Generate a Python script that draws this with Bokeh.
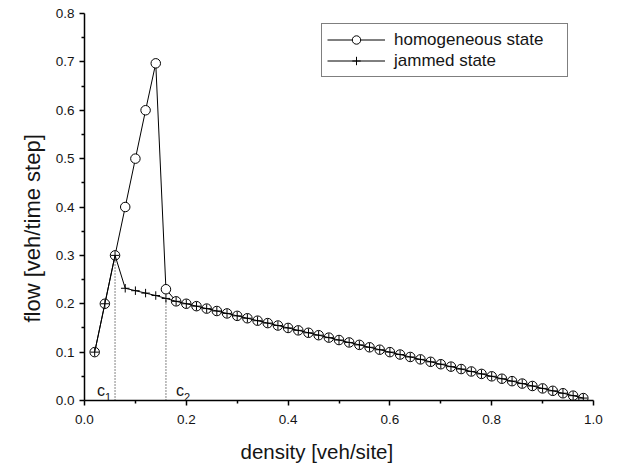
from bokeh.plotting import figure
from bokeh.models import Legend, LegendItem, Range1d, FixedTicker, Title
from bokeh.core.properties import value
from bokeh.embed import file_html
from bokeh.resources import INLINE

density = [0.02, 0.04, 0.06, 0.08, 0.10, 0.12, 0.14, 0.16, 0.18, 0.20,
           0.22, 0.24, 0.26, 0.28, 0.30, 0.32, 0.34, 0.36, 0.38, 0.40,
           0.42, 0.44, 0.46, 0.48, 0.50, 0.52, 0.54, 0.56, 0.58, 0.60,
           0.62, 0.64, 0.66, 0.68, 0.70, 0.72, 0.74, 0.76, 0.78, 0.80,
           0.82, 0.84, 0.86, 0.88, 0.90, 0.92, 0.94, 0.96, 0.98]

homogeneous = [0.100, 0.200, 0.300, 0.400, 0.500, 0.600, 0.697, 0.230, 0.205, 0.200,
               0.195, 0.190, 0.185, 0.180, 0.175, 0.170, 0.165, 0.160, 0.155, 0.150,
               0.145, 0.140, 0.135, 0.130, 0.125, 0.120, 0.115, 0.110, 0.105, 0.100,
               0.095, 0.090, 0.085, 0.080, 0.075, 0.070, 0.065, 0.060, 0.055, 0.050,
               0.045, 0.040, 0.035, 0.030, 0.025, 0.020, 0.015, 0.010, 0.005]

jammed = [0.100, 0.200, 0.300, 0.232, 0.227, 0.222, 0.217, 0.211, 0.205, 0.200,
          0.195, 0.190, 0.185, 0.180, 0.175, 0.170, 0.165, 0.160, 0.155, 0.150,
          0.145, 0.140, 0.135, 0.130, 0.125, 0.120, 0.115, 0.110, 0.105, 0.100,
          0.095, 0.090, 0.085, 0.080, 0.075, 0.070, 0.065, 0.060, 0.055, 0.050,
          0.045, 0.040, 0.035, 0.030, 0.025, 0.020, 0.015, 0.010, 0.005]

critical_density = [0.06, 0.16]
critical_flow = [0.30, 0.211]
critical_subs = ["1", "2"]

x_ticks = [0.0, 0.2, 0.4, 0.6, 0.8, 1.0]
y_ticks = [0.0, 0.1, 0.2, 0.3, 0.4, 0.5, 0.6, 0.7, 0.8]

FONT = "Liberation Sans"
INK = "#151515"

p = figure(frame_width=509, frame_height=387, output_backend="svg",
           toolbar_location=None, x_range=Range1d(0, 1), y_range=Range1d(0, 0.8),
           min_border_left=84, min_border_right=30, min_border_top=13,
           min_border_bottom=0)
p.outline_line_color = None
p.xgrid.visible = False
p.ygrid.visible = False
p.background_fill_color = "white"
p.border_fill_color = "white"

for ax in (p.xaxis[0], p.yaxis[0]):
    ax.axis_line_color = "black"
    ax.axis_line_width = 1.5
    ax.major_tick_line_color = "black"
    ax.major_tick_line_width = 1.5
    ax.minor_tick_line_color = "black"
    ax.minor_tick_line_width = 1.5
    ax.major_tick_in = 0
    ax.major_tick_out = 5
    ax.minor_tick_in = 0
    ax.minor_tick_out = 3
    ax.major_label_text_font = FONT
    ax.major_label_text_font_size = "13.5px"
    ax.major_label_text_color = INK

p.xaxis[0].ticker = FixedTicker(ticks=x_ticks, minor_ticks=[0.1, 0.3, 0.5, 0.7, 0.9])
p.yaxis[0].ticker = FixedTicker(ticks=y_ticks,
                                minor_ticks=[0.05, 0.15, 0.25, 0.35, 0.45, 0.55, 0.65, 0.75])
p.xaxis[0].major_label_overrides = {t: f"{t:.1f}" for t in x_ticks}
p.yaxis[0].major_label_overrides = {t: f"{t:.1f}" for t in y_ticks}
p.xaxis[0].major_label_standoff = 9
p.yaxis[0].major_label_standoff = 5

# axis titles (offset like the reference)
spacer = Title(text=" ", standoff=6, text_font_size="1px")
xt = Title(text="density [veh/site]", align="left", offset=156, standoff=4,
           text_font=FONT, text_font_size="20.5px", text_font_style="normal",
           text_color=INK)
yt = Title(text="flow [veh/time step]", align="left", offset=78, standoff=16,
           text_font=FONT, text_font_size="22px", text_font_style="normal",
           text_color=INK)
p.add_layout(spacer, "below")
p.add_layout(xt, "below")
p.add_layout(yt, "left")

# critical density markers
p.segment(x0=critical_density, y0=[0, 0], x1=critical_density, y1=critical_flow,
          line_color="#333333", line_width=1.2, line_dash="1 2")

p.text(x=[critical_density[0]], y=[0], text=["c"], x_offset=-10, y_offset=-10,
       text_align="right", text_baseline="alphabetic",
       text_font=value(FONT), text_font_size="16px", text_color=INK)
p.text(x=[critical_density[0]], y=[0], text=[critical_subs[0]], x_offset=-10, y_offset=-4,
       text_align="left", text_baseline="alphabetic",
       text_font=value(FONT), text_font_size="11px", text_color=INK)
p.text(x=[critical_density[1]], y=[0], text=["c"], x_offset=10, y_offset=-10,
       text_align="left", text_baseline="alphabetic",
       text_font=value(FONT), text_font_size="16px", text_color=INK)
p.text(x=[critical_density[1]], y=[0], text=[critical_subs[1]], x_offset=18, y_offset=-4,
       text_align="left", text_baseline="alphabetic",
       text_font=value(FONT), text_font_size="11px", text_color=INK)

h_line = p.line(density, homogeneous, line_color="black", line_width=1)
h_mark = p.scatter(density, homogeneous, marker="circle", size=9.5,
                   fill_color="white", line_color="black", line_width=1)
j_line = p.line(density, jammed, line_color="black", line_width=1)
j_mark = p.scatter(density, jammed, marker="cross", size=8.5,
                   line_color="black", line_width=1)

legend = Legend(items=[
    LegendItem(label="homogeneous state", renderers=[h_line, h_mark]),
    LegendItem(label="jammed state", renderers=[j_line, j_mark]),
], location=(237, 323))
legend.padding = 5
legend.spacing = 0
legend.margin = 0
legend.glyph_width = 58
legend.glyph_height = 21
legend.label_height = 21
legend.label_width = 168
legend.label_standoff = 9
legend.label_text_font = FONT
legend.label_text_font_size = "17px"
legend.label_text_color = INK
legend.border_line_color = "black"
legend.border_line_width = 1
legend.background_fill_color = "white"
legend.background_fill_alpha = 1
p.add_layout(legend, "center")

open("out.html", "w").write(file_html(p, INLINE))
